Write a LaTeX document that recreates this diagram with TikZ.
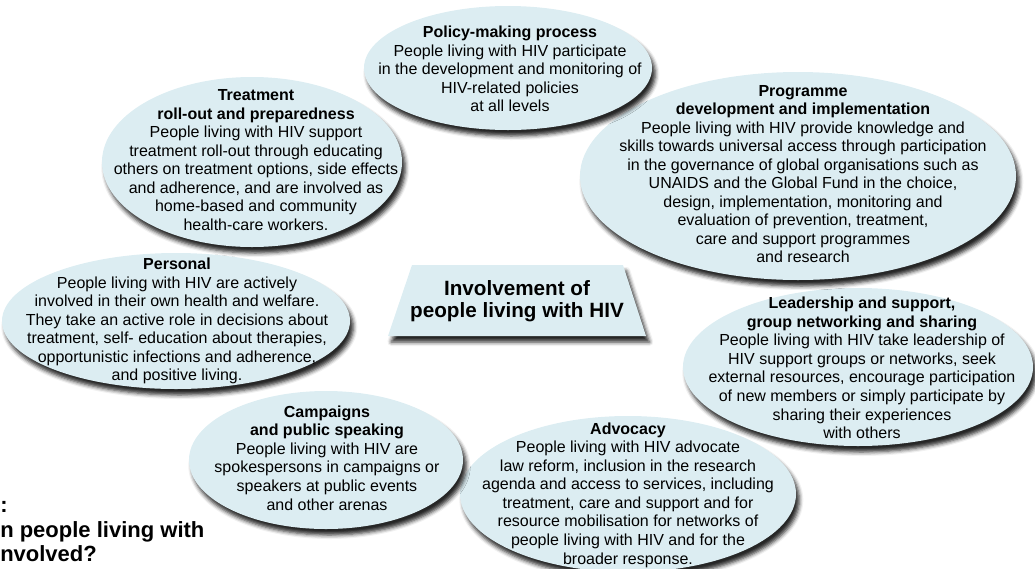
\documentclass[tikz,border=0pt]{standalone}
\usepackage{fontspec}
\setmainfont{Liberation Sans}
\usetikzlibrary{shapes.geometric, shadows.blur}
\definecolor{paleblue}{RGB}{220,237,242}
\tikzstyle{blob} = [fill=paleblue, blur shadow={shadow xshift=2.5pt, shadow yshift=-4.5pt, shadow blur radius=3pt, shadow opacity=85}]
\tikzstyle{txt} = [align=center, inner sep=0pt, font=\fontsize{12}{13.9}\selectfont]

\begin{document}
\begin{tikzpicture}[x=0.75pt, y=0.75pt]
\useasboundingbox (0,0) rectangle (1035,-568);
% bubbles, back to front
\path [blob] (628,-494) ellipse (168 and 78);
\path [blob] (326,-460) ellipse (137 and 69);
\path [blob] (858,-367) ellipse (175 and 79);
\path [blob] (176,-321) ellipse (174 and 68);
\path [blob] (798,-176) ellipse (218 and 104);
\path [blob] (252,-162) ellipse (150 and 85);
\path [blob] (508,-68) ellipse (144 and 62);
\path [blob] (412,-265) -- (623,-265) -- (646,-336) -- (388,-336) -- cycle;

\node (advocacy) [txt] at (628,-495) {\textbf{Advocacy}\\People living with HIV advocate\\law reform, inclusion in the research\\agenda and access to services, including\\treatment, care and support and for\\resource mobilisation for networks of\\people living with HIV and for the\\broader response.};
\node (campaigns) [txt] at (327,-458) {\textbf{Campaigns}\\\textbf{and public speaking}\\People living with HIV are\\spokespersons in campaigns or\\speakers at public events\\and other arenas};
\node (leadership) [txt] at (862,-368) {\textbf{Leadership and support,}\\\textbf{group networking and sharing}\\People living with HIV take leadership of\\HIV support groups or networks, seek\\external resources, encourage participation\\of new members or simply participate by\\sharing their experiences\\with others};
\node (personal) [txt] at (177,-321) {\textbf{Personal}\\People living with HIV are actively\\involved in their own health and welfare.\\They take an active role in decisions about\\treatment, self- education about therapies,\\opportunistic infections and adherence,\\and positive living.};
\node (programme) [txt] at (803,-174) {\textbf{Programme}\\\textbf{development and implementation}\\People living with HIV provide knowledge and\\skills towards universal access through participation\\in the governance of global organisations such as\\UNAIDS and the Global Fund in the choice,\\design, implementation, monitoring and\\evaluation of prevention, treatment,\\care and support programmes\\and research};
\node (treatment) [txt] at (256,-160) {\textbf{Treatment}\\\textbf{roll-out and preparedness}\\People living with HIV support\\treatment roll-out through educating\\others on treatment options, side effects\\and adherence, and are involved as\\home-based and community\\health-care workers.};
\node (policy) [txt] at (510,-69) {\textbf{Policy-making process}\\People living with HIV participate\\in the development and monitoring of\\HIV-related policies\\at all levels};
\node (hub) [txt, font=\bfseries\fontsize{15.5}{16.3}\selectfont] at (517,-301) {Involvement of\\people living with HIV};

\node (question) [anchor=north west, align=left, inner sep=0pt, font=\bfseries\fontsize{16.5}{18.5}\selectfont] at (0,-501) {:\\n people living with\\nvolved?};
\end{tikzpicture}
\end{document}
